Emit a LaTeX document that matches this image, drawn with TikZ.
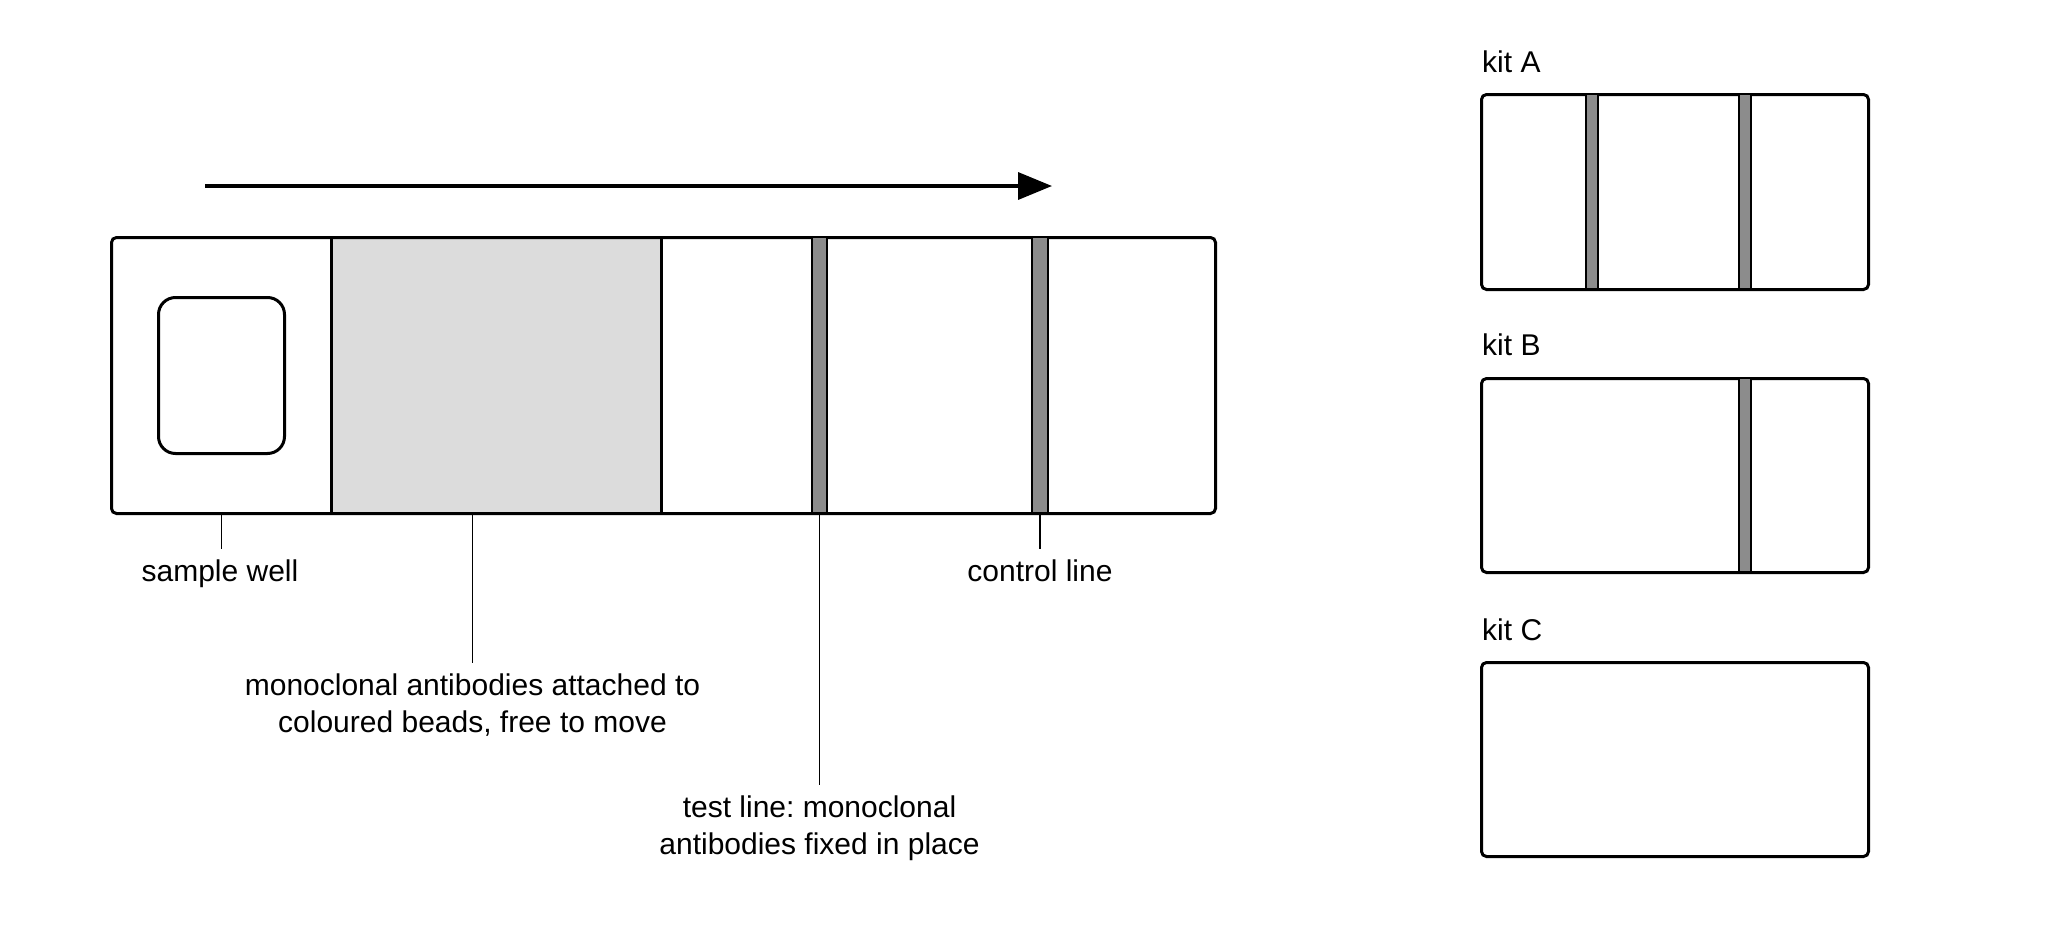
\documentclass[tikz,border=0pt]{standalone}
\usepackage{fontspec}
\setmainfont{Liberation Sans}
\usetikzlibrary{arrows.meta}
\definecolor{beadgray}{HTML}{DCDCDC}
\definecolor{bandgray}{HTML}{8C8C8C}
\frenchspacing
\begin{document}
\begin{tikzpicture}[x=1pt,y=-1pt,
  frame/.style={draw=black,line width=3pt,rounded corners=5pt,inner sep=0pt,anchor=north west},
  divider/.style={draw=black,line width=3pt},
  band/.style={fill=bandgray,draw=black,line width=2pt,inner sep=0pt,anchor=north},
  leader/.style={draw=black,line width=1.8pt,shorten >=10pt},
  lbl/.style={font=\fontsize{30}{37}\selectfont,inner sep=0pt,anchor=base,align=center},
  kitlbl/.style={font=\fontsize{30}{37}\selectfont,inner sep=0pt,anchor=base west},
  flow/.style={draw=black,line width=3.5pt,-{Triangle[length=34pt,width=27pt]}}
]
\useasboundingbox (0,0) rectangle (2048,929);
\fill[white] (0,0) rectangle (2048,929);

% flow arrow
\coordinate (arrS) at (205,186);
\coordinate (arrE) at (1052,186);
\draw[flow] (arrS) -- (arrE);

% main strip
\node[fill=beadgray,inner sep=0pt,anchor=north west,minimum width=330pt,minimum height=276pt] (beads) at (331,236) {};
\node[frame,minimum width=1104pt,minimum height=276pt] (strip) at (110,236) {};
\draw[divider] (beads.north west) -- (beads.south west);
\draw[divider] (beads.north east) -- (beads.south east);
\node[frame,rounded corners=17pt,minimum width=126pt,minimum height=156pt] (well) at (157,296) {};
\node[band,minimum width=15pt,minimum height=276pt] (testband) at (819.5,236) {};
\node[band,minimum width=16pt,minimum height=276pt] (ctrlband) at (1040,236) {};

% labels (base = baseline of the last line)
\node[lbl] (swlbl) at (220,581) {sample well};
\node[lbl] (beadlbl) at (472.5,732) {monoclonal antibodies attached to\\coloured beads, free to move};
\node[lbl] (testlbl) at (819.5,854) {test line: monoclonal\\antibodies fixed in place};
\node[lbl] (ctrllbl) at (1040,581) {control line};

\coordinate (swtop) at (well.south |- strip.south);
\coordinate (beadtop) at (472.5,512);
\draw[leader] (swtop) -- (swtop |- swlbl.north);
\draw[leader] (beadtop) -- (beadtop |- beadlbl.north);
\draw[leader] (testband.south) -- (testband.south |- testlbl.north);
\draw[leader] (ctrlband.south) -- (ctrlband.south |- ctrllbl.north);

% kits
\node[kitlbl] (kitAl) at (1482,72) {kit A};
\node[frame,fill=white,minimum width=387pt,minimum height=195pt] (kitA) at (1480,93) {};
\node[band,minimum width=12pt,minimum height=195pt] (kitAt) at (1591.5,93) {};
\node[band,minimum width=12pt,minimum height=195pt] (kitAc) at (1745,93) {};

\node[kitlbl] (kitBl) at (1482,355) {kit B};
\node[frame,fill=white,minimum width=387pt,minimum height=194pt] (kitB) at (1480,377) {};
\node[band,minimum width=12pt,minimum height=194pt] (kitBc) at (1745,377) {};

\node[kitlbl] (kitCl) at (1482,640) {kit C};
\node[frame,fill=white,minimum width=387pt,minimum height=194pt] (kitC) at (1480,661) {};
\end{tikzpicture}
\end{document}
